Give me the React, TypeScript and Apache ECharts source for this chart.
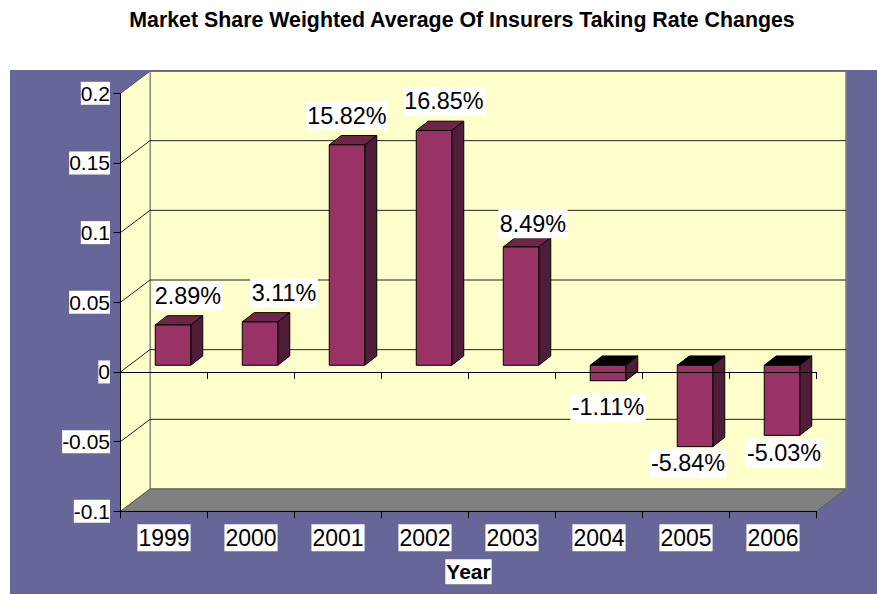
import React, { useEffect, useRef } from "react";
import * as echarts from "echarts";

const years = ["1999", "2000", "2001", "2002", "2003", "2004", "2005", "2006"];
const shares = [0.0289, 0.0311, 0.1582, 0.1685, 0.0849, -0.0111, -0.0584, -0.0503];
const yTicks = [-0.1, -0.05, 0, 0.05, 0.1, 0.15, 0.2];
const titleText = "Market Share Weighted Average Of Insurers Taking Rate Changes";
const xName = "Year";

// label placement relative to (category centre, value position)
const labelNudge = [
  [24, -36], [33, -36], [8.8, -36], [19, -35.7], [21, -29.8], [9, 20], [2, 10], [11, 11],
];

const FONT = '"Liberation Sans", Arial, sans-serif';
const WALL_DX = 29.5;
const WALL_DY = 22.3;
const BAR_W = 35.5;
const BAR_SHIFT_X = 9;
const BAR_SHIFT_Y = 6.7;
const BAR_DX = 12;
const BAR_DY = 9.3;

export default function App() {
  const ref = useRef<HTMLDivElement>(null);
  useEffect(() => {
    const chart = echarts.init(ref.current!, null, { renderer: "svg" });
    const option: any = {
      animation: false,
      backgroundColor: "#ffffff",
      title: {
        text: titleText,
        left: 457,
        top: 4.5,
        textAlign: "center",
        textStyle: { fontFamily: FONT, fontSize: 21.35, fontWeight: "bold", color: "#000" },
      },
      graphic: [
        {
          type: "rect",
          z: 0,
          shape: { x: 10, y: 70, width: 867, height: 524 },
          style: { fill: "#666699" },
        },
      ],
      grid: { left: 120.5, top: 93.3, width: 696, height: 418, containLabel: false },
      xAxis: [
        {
          type: "category",
          data: years,
          position: "bottom",
          z: 6,
          name: xName,
          nameLocation: "middle",
          nameGap: 48,
          nameTextStyle: {
            fontFamily: FONT, fontSize: 21, fontWeight: "bold", color: "#000",
            backgroundColor: "#fff", padding: [2, 1],
          },
          axisLine: { onZero: false, lineStyle: { color: "#000", width: 1 } },
          axisTick: { show: true, length: 7, lineStyle: { color: "#000" } },
          axisLabel: {
            fontFamily: FONT, fontSize: 23, color: "#000", margin: 13,
            backgroundColor: "#fff", padding: [2, 1], interval: 0,
          },
          splitLine: { show: false },
        },
        {
          type: "category",
          data: years,
          position: "bottom",
          z: 6,
          axisLine: { onZero: true, lineStyle: { color: "#000", width: 1 } },
          axisTick: { show: true, length: 7, lineStyle: { color: "#000" } },
          axisLabel: { show: false },
          splitLine: { show: false },
        },
      ],
      yAxis: {
        type: "value",
        min: -0.1,
        max: 0.2,
        interval: 0.05,
        z: 6,
        axisLine: { show: true, lineStyle: { color: "#000", width: 1 } },
        axisTick: { show: true, length: 7, lineStyle: { color: "#000" } },
        axisLabel: {
          fontFamily: FONT, fontSize: 21, color: "#000", margin: 10.5,
          backgroundColor: "#fff", padding: [1, 0],
        },
        splitLine: { show: false },
      },
      series: [
        {
          type: "custom",
          name: "walls",
          z: 1,
          silent: true,
          clip: false,
          data: [[0, -0.1]],
          renderItem: (params: any, api: any) => {
            const c = params.coordSys;
            const L = c.x, R = c.x + c.width, T = c.y, B = c.y + c.height;
            return {
              type: "group",
              children: [
                {
                  type: "rect",
                  shape: { x: L + WALL_DX, y: T - WALL_DY, width: c.width, height: c.height },
                  style: { fill: "#FFFFCC", stroke: "#808080", lineWidth: 1.6 },
                },
                {
                  type: "polygon",
                  shape: { points: [[L, T], [L + WALL_DX, T - WALL_DY], [L + WALL_DX, B - WALL_DY], [L, B]] },
                  style: { fill: "#FFFFCC", stroke: "#808080", lineWidth: 1 },
                },
                {
                  type: "polygon",
                  shape: { points: [[L, B], [L + WALL_DX, B - WALL_DY], [R + WALL_DX, B - WALL_DY], [R, B]] },
                  style: { fill: "#808080", stroke: "#5c5c5c", lineWidth: 1 },
                },
              ],
            };
          },
        },
        {
          type: "custom",
          name: "gridlines",
          z: 2,
          silent: true,
          clip: false,
          data: yTicks.map((v) => [0, v]),
          encode: { x: 0, y: 1 },
          renderItem: (params: any, api: any) => {
            const c = params.coordSys;
            const v = api.value(1);
            const y = api.coord([0, v])[1];
            if (v === -0.1) return { type: "group", children: [] };
            return {
              type: "polyline",
              shape: {
                points: [
                  [c.x, y],
                  [c.x + WALL_DX, y - WALL_DY],
                  [c.x + c.width + WALL_DX, y - WALL_DY],
                ],
              },
              style: { fill: "none", stroke: v === 0.2 ? "#555" : "#222", lineWidth: 1 },
            };
          },
        },
        {
          type: "custom",
          name: "bars",
          z: 3,
          clip: false,
          data: shares.map((v, i) => [i, v]),
          encode: { x: 0, y: 1 },
          renderItem: (params: any, api: any) => {
            const i = api.value(0);
            const v = api.value(1);
            const zero = api.coord([i, 0]);
            const val = api.coord([i, v]);
            const left = zero[0] - BAR_W / 2 + BAR_SHIFT_X;
            const right = left + BAR_W;
            const y0 = zero[1] - BAR_SHIFT_Y;
            const y1 = val[1] - BAR_SHIFT_Y;
            const top = Math.min(y0, y1);
            const bottom = Math.max(y0, y1);
            const edge = { stroke: "#000", lineWidth: 1, lineJoin: "miter" };
            return {
              type: "group",
              children: [
                {
                  type: "polygon",
                  shape: {
                    points: [
                      [left, top], [left + BAR_DX, top - BAR_DY],
                      [right + BAR_DX, top - BAR_DY], [right, top],
                    ],
                  },
                  style: { fill: v >= 0 ? "#6E2549" : "#000000", ...edge },
                },
                {
                  type: "polygon",
                  shape: {
                    points: [
                      [right, top], [right + BAR_DX, top - BAR_DY],
                      [right + BAR_DX, bottom - BAR_DY], [right, bottom],
                    ],
                  },
                  style: { fill: "#4F1D38", ...edge },
                },
                {
                  type: "rect",
                  shape: { x: left, y: top, width: BAR_W, height: bottom - top },
                  style: { fill: "#993366", ...edge },
                },
              ],
            };
          },
        },
        {
          type: "custom",
          name: "labels",
          z: 8,
          clip: false,
          data: shares.map((v, i) => [i, v]),
          encode: { x: 0, y: 1 },
          renderItem: (params: any, api: any) => {
            const i = api.value(0);
            const v = api.value(1);
            const p = api.coord([i, v]);
            return {
              type: "text",
              x: p[0] + labelNudge[i][0],
              y: p[1] + labelNudge[i][1],
              style: {
                text: (v * 100).toFixed(2) + "%",
                fill: "#000",
                font: `23.4px ${FONT}`,
                align: "center",
                verticalAlign: "middle",
                backgroundColor: "#fff",
                padding: [3, 1.5],
              },
            };
          },
        },
      ],
    };
    chart.setOption(option);
    return () => chart.dispose();
  }, []);
  return (
    <div
      ref={ref}
      style={{ position: "absolute", left: 0, top: 0, width: 877, height: 594 }}
    />
  );
}
